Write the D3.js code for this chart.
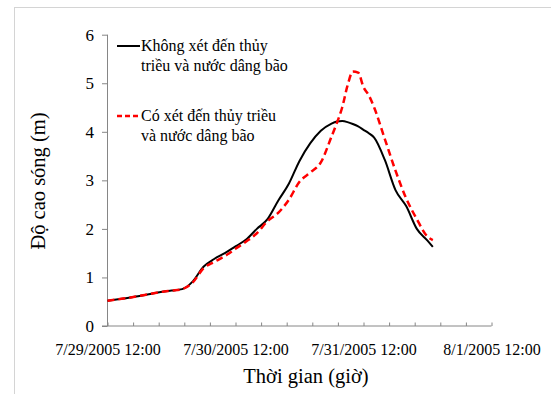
<!DOCTYPE html>
<html>
<head>
<meta charset="utf-8">
<script src="https://cdn.jsdelivr.net/npm/d3@7"></script>
<style>
  html, body { margin: 0; padding: 0; background: #fff; }
  svg { display: block; }
</style>
</head>
<body>
<div id="chart"></div>
<script>
// hours after 7/29/2005 12:00
const hours = [0, 2, 4, 6, 8, 10, 12, 14, 16, 18, 20, 22, 24, 26, 28, 30, 32, 34, 36, 38, 40, 42, 43, 44, 45, 46, 47, 48, 49, 50, 52, 54, 56, 58, 60, 61];
const noTide = [0.52, 0.55, 0.58, 0.62, 0.66, 0.70, 0.73, 0.76, 0.92, 1.22, 1.38, 1.50, 1.64, 1.78, 2.00, 2.20, 2.58, 2.93, 3.40, 3.76, 4.02, 4.17, 4.21, 4.22, 4.20, 4.16, 4.11, 4.04, 3.97, 3.88, 3.42, 2.80, 2.47, 2.00, 1.76, 1.63];
const withTide = [0.52, 0.55, 0.58, 0.62, 0.66, 0.70, 0.73, 0.76, 0.90, 1.19, 1.32, 1.44, 1.59, 1.74, 1.91, 2.16, 2.33, 2.60, 2.97, 3.16, 3.37, 3.90, 4.18, 4.50, 4.95, 5.24, 5.22, 4.92, 4.75, 4.50, 3.85, 3.20, 2.63, 2.20, 1.84, 1.77];
const seriesNames = [
  ["Không xét đến thủy", "triều và nước dâng bão"],
  ["Có xét đến thủy triều", "và nước dâng bão"]
];
const yTicks = [0, 1, 2, 3, 4, 5, 6];
const xTitle = "Thời gian (giờ)";
const yTitle = "Độ cao sóng (m)";

const width = 551, height = 394;
const serif = '"Liberation Serif", "Times New Roman", Times, serif';
const start = new Date(2005, 6, 29, 12, 0);
const end = new Date(2005, 7, 1, 12, 0);
const HOUR = 3600 * 1000;
const toDate = h => new Date(start.getTime() + h * HOUR);

const svg = d3.select('#chart').append('svg')
  .attr('width', width)
  .attr('height', height);

// outer chart border
svg.append('rect')
  .attr('x', 14.5).attr('y', 7.5)
  .attr('width', 600).attr('height', 420)
  .attr('fill', 'none')
  .attr('stroke', '#d4d4d4');

const x = d3.scaleTime().domain([start, end]).range([107.5, 491.5]);
const y = d3.scaleLinear().domain([0, 6]).range([326, 34.7]);

const axisColor = '#868686';

// y axis
const yAxis = svg.append('g')
  .attr('transform', `translate(${x.range()[0]},0)`)
  .call(d3.axisLeft(y).tickValues(yTicks).tickSize(5.5).tickPadding(8).tickFormat(d3.format('d')));
yAxis.select('.domain').attr('stroke', axisColor).attr('d', `M0,${y(0)}V${y(6)}`);
yAxis.selectAll('.tick line').attr('stroke', axisColor);
yAxis.selectAll('.tick text')
  .style('font-family', serif)
  .style('font-size', '17px')
  .attr('fill', '#000');

// x axis, a minor tick every 4.8 hours, a label every day
const xTickVals = d3.range(0, 16).map(i => toDate(i * 4.8));
const fmt = d3.timeFormat('%-m/%-d/%Y %H:%M');
const xAxis = svg.append('g')
  .attr('transform', `translate(0,${y(0)})`)
  .call(d3.axisBottom(x).tickValues(xTickVals).tickSize(-3.5).tickPadding(0)
    .tickFormat((d, i) => i % 5 === 0 ? fmt(d) : ''));
xAxis.select('.domain').attr('stroke', axisColor).attr('d', `M${x.range()[0] - 5.5},0H${x.range()[1]}`);
xAxis.selectAll('.tick line').attr('stroke', axisColor);
xAxis.selectAll('.tick text')
  .attr('y', 29)
  .attr('dy', 0)
  .style('font-family', serif)
  .style('font-size', '16px')
  .attr('fill', '#000');

// axis titles
svg.append('text')
  .attr('x', 306).attr('y', 383)
  .attr('text-anchor', 'middle')
  .style('font-family', serif)
  .style('font-size', '20.5px')
  .text(xTitle);

svg.append('text')
  .attr('transform', `translate(45,181) rotate(-90)`)
  .attr('text-anchor', 'middle')
  .style('font-family', serif)
  .style('font-size', '20.5px')
  .text(yTitle);

// series
const line = d3.line()
  .x((d, i) => x(toDate(hours[i])))
  .y(d => y(d))
  .curve(d3.curveMonotoneX);

svg.append('path')
  .datum(noTide)
  .attr('d', line)
  .attr('fill', 'none')
  .attr('stroke', '#000')
  .attr('stroke-width', 2);

svg.append('path')
  .datum(withTide)
  .attr('d', line)
  .attr('fill', 'none')
  .attr('stroke', '#ff0000')
  .attr('stroke-width', 2.5)
  .attr('stroke-dasharray', '7,4');

// legend
const legend = [
  { stroke: '#000', width: 2, dash: null, y: 46 },
  { stroke: '#ff0000', width: 2.5, dash: '5,3', y: 116 }
];
legend.forEach((l, i) => {
  svg.append('line')
    .attr('x1', 117).attr('x2', 140)
    .attr('y1', l.y).attr('y2', l.y)
    .attr('stroke', l.stroke)
    .attr('stroke-width', l.width)
    .attr('stroke-dasharray', l.dash);
  [0, 1].forEach(k => {
    svg.append('text')
      .attr('x', 141).attr('y', l.y + 5 + k * 20)
      .style('font-family', serif)
      .style('font-size', '16px')
      .text(seriesNames[i][k]);
  });
});
</script>
</body>
</html>
